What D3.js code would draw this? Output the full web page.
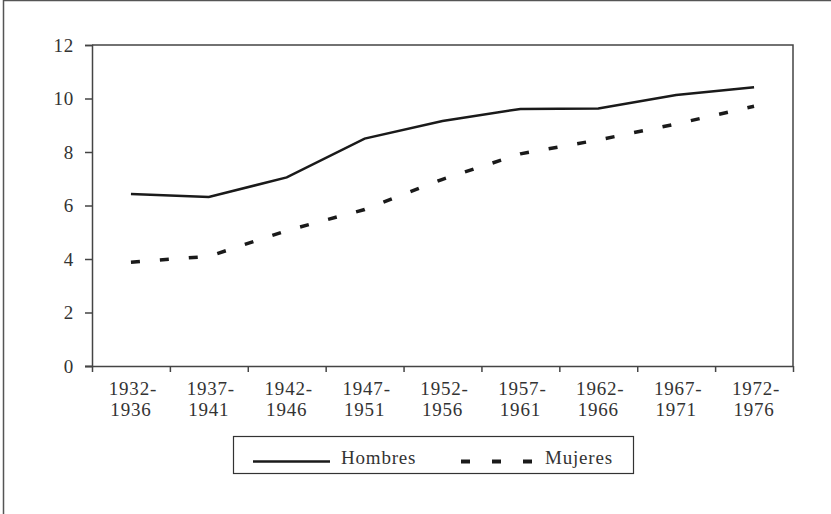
<!DOCTYPE html>
<html>
<head>
<meta charset="utf-8">
<script src="https://cdn.jsdelivr.net/npm/d3@7/dist/d3.min.js"></script>
<style>
  body { margin: 0; background: #fff; }
  svg text { font-family: "Liberation Serif", "DejaVu Serif", serif; fill: #333; letter-spacing: 0.8px; }
</style>
</head>
<body>
<svg id="chart" width="831" height="514"></svg>
<script>
// periods on x axis (two lines each)
var periods = ["1932-1936","1937-1941","1942-1946","1947-1951","1952-1956",
               "1957-1961","1962-1966","1967-1971","1972-1976"];
var hombres = [6.43, 6.32, 7.05, 8.5, 9.16, 9.61, 9.63, 10.13, 10.42];
var mujeres = [3.88, 4.1, 5.06, 5.85, 6.98, 7.93, 8.45, 9.05, 9.71];
var yTicks = [0, 2, 4, 6, 8, 10, 12];

var svg = d3.select("#chart");
var pLeft = 92, pRight = 793, pTop = 45, pBottom = 366;
var fontFam = "Liberation Serif, DejaVu Serif, serif";
var fSize = 19;

// outer frame (only left and top visible)
svg.append("path").attr("d", "M3.5,514 V0.5 H831")
    .attr("fill", "none").attr("stroke", "#555").attr("stroke-width", 1.5);

var x = d3.scaleBand().domain(periods).range([pLeft, pRight]).padding(0);
var xEdge = d3.scaleLinear().domain([0, periods.length]).range([pLeft, pRight]);
var y = d3.scaleLinear().domain([0, 12]).range([pBottom, pTop]);

// plot box right + top
svg.append("path").attr("d", ["M", pLeft, pTop, "H", pRight, "V", pBottom].join(" "))
    .attr("fill", "none").attr("stroke", "#444").attr("stroke-width", 1.5);

var yAxis = svg.append("g").attr("transform", "translate(" + pLeft + ",0)")
    .call(d3.axisLeft(y).tickValues(yTicks).tickSize(7).tickPadding(11).tickFormat(d3.format("d")));
yAxis.select(".domain").attr("stroke", "#444").attr("stroke-width", 1.5);
yAxis.selectAll(".tick line").attr("stroke", "#444").attr("stroke-width", 1.5);
yAxis.selectAll(".tick text").attr("font-size", fSize).attr("fill", "#333")
    .attr("font-family", fontFam);

var xAxis = svg.append("g").attr("transform", "translate(0," + pBottom + ")")
    .call(d3.axisBottom(xEdge).tickValues(d3.range(periods.length + 1)).tickSize(6).tickSizeOuter(0).tickFormat(""));
xAxis.select(".domain").attr("stroke", "#444").attr("stroke-width", 1.5)
    .attr("d", "M" + (pLeft - 7) + ",0.5H" + pRight);
xAxis.selectAll(".tick line").attr("stroke", "#444").attr("stroke-width", 1.5);

// period labels
var lab = svg.append("g").selectAll("text").data(periods).enter().append("text")
    .attr("text-anchor", "middle")
    .attr("font-size", fSize);
lab.append("tspan").attr("x", function(d){ return x(d) + x.bandwidth() / 2 + 2; })
    .attr("y", 395).text(function(d){ return d.split("-")[0] + "-"; });
lab.append("tspan").attr("x", function(d){ return x(d) + x.bandwidth() / 2; })
    .attr("y", 416).text(function(d){ return d.split("-")[1]; });

var line = d3.line()
    .x(function(d, i){ return x(periods[i]) + x.bandwidth() / 2; })
    .y(function(d){ return y(d); });

svg.append("path").datum(hombres).attr("d", line)
    .attr("fill", "none").attr("stroke", "#1a1a1a").attr("stroke-width", 2.5);
svg.append("path").datum(mujeres).attr("d", line)
    .attr("fill", "none").attr("stroke", "#1a1a1a").attr("stroke-width", 3.5)
    .attr("stroke-dasharray", "9,20");

// legend
var lg = svg.append("g");
lg.append("rect").attr("x", 233.5).attr("y", 436.5).attr("width", 400).attr("height", 37)
    .attr("fill", "none").attr("stroke", "#333").attr("stroke-width", 1.2);
lg.append("line").attr("x1", 253).attr("x2", 330).attr("y1", 461.5).attr("y2", 461.5)
    .attr("stroke", "#1a1a1a").attr("stroke-width", 2.5);
lg.append("text").attr("x", 341).attr("y", 464).attr("font-size", fSize).text("Hombres");
lg.append("line").attr("x1", 461).attr("x2", 535).attr("y1", 461.5).attr("y2", 461.5)
    .attr("stroke", "#1a1a1a").attr("stroke-width", 4).attr("stroke-dasharray", "9,22");
lg.append("text").attr("x", 545).attr("y", 464).attr("font-size", fSize).text("Mujeres");
</script>
</body>
</html>
